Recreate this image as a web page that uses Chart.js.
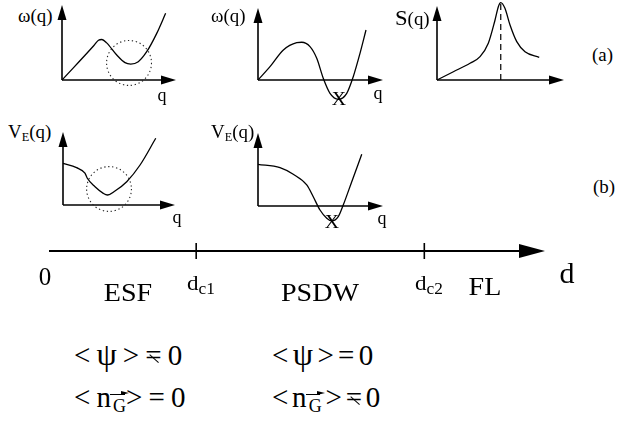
<!DOCTYPE html>
<html><head><meta charset="utf-8">
<script src="https://cdn.jsdelivr.net/npm/chart.js@4.4.1/dist/chart.umd.min.js"></script>
<style>
html,body{margin:0;padding:0;background:#fff;}
#wrap{position:relative;width:643px;height:423px;overflow:hidden;background:#fff;font-family:"Liberation Serif","Times New Roman",serif;color:#000;}
#wrap canvas{position:absolute;z-index:1;}
.t{position:absolute;white-space:nowrap;line-height:1;z-index:2;}
.sub{font-size:0.65em;position:relative;top:0.3em;}
.neq{position:relative;display:inline-block;}
.neq::after{content:"";position:absolute;left:0.1em;top:0.6em;width:0.4em;height:0.05em;background:#000;transform:rotate(42deg);}
.vec{position:relative;display:inline-block;margin-left:0.12em;}
.vec::before{content:"";position:absolute;left:-0.15em;width:0.8em;top:-0.22em;height:0.06em;background:#000;}
.vec::after{content:"";position:absolute;left:0.45em;top:-0.35em;border-left:0.45em solid #000;border-top:0.16em solid transparent;border-bottom:0.16em solid transparent;}
.psi{font-size:1.12em;}
</style></head>
<body><div id="wrap"></div>
<script>
// ---------- data ----------
// (a) ESF: dispersion omega(q) with roton-like minimum
const ESF_q     = [0, 2.80, 3.20, 3.50, 3.92, 4.80, 5.53, 6.03, 6.69, 7.43, 8.31, 9.09];
const ESF_omega = [0, 4.60, 5.30, 5.40, 4.95, 3.33, 2.31, 2.13, 2.44, 3.77, 6.22, 8.89];
// (a) PSDW: omega(q) dipping below zero
const PSDW_q     = [0, 0.96, 2.03, 3.10, 3.50, 4.16, 4.70, 5.22, 5.76, 6.43, 7.10, 7.62, 8.16, 8.64];
const PSDW_omega = [0, 1.85, 4.17, 5.18, 5.24, 4.63, 3.01, 0.24, -1.85, -2.68, -1.85, 0.46, 3.70, 6.94];
// (a) structure factor S(q)
const S_q   = [0, 1.29, 2.60, 3.39, 4.04, 4.57, 4.83, 5.02, 5.35, 5.75, 6.28, 6.93, 8.05];
const S_val = [0, 1.12, 2.26, 3.15, 4.96, 8.11, 9.91, 10.45, 9.69, 7.43, 5.18, 3.82, 3.07];
// (b) effective potential V_E(q)
const VE_ESF_q  = [0, 1.21, 1.96, 2.17, 2.86, 3.60, 3.96, 4.64, 5.69, 6.88, 8.28];
const VE_ESF    = [5.71, 5.11, 4.36, 3.66, 2.51, 1.60, 1.37, 1.92, 3.19, 5.48, 9.14];
const VE_PSDW_q = [0, 1.76, 2.82, 3.90, 4.42, 4.96, 5.50, 5.90, 6.42, 6.82, 7.50, 8.30];
const VE_PSDW   = [5.71, 5.25, 4.34, 2.88, 1.27, -0.55, -1.68, -2.05, -1.47, 0.14, 3.33, 7.08];
// phase axis d
const dAxis = [0, 3.37];
const dCritical = [1.0, 2.55];
const dCriticalLabels = ['c1', 'c2'];
const phaseNames = ['ESF', 'PSDW', 'FL'];
const phaseCenters = [0.54, 1.84, 2.96];

// ---------- plugin: arrow axes + dotted circles ----------
const arrowAxes = {
  id: 'arrowAxes',
  defaults: { on: false },
  beforeDatasetsDraw(chart, args, o) {
    if (!o.on) return;
    const c = chart.ctx, xs = chart.scales.x, ys = chart.scales.y;
    const x0 = xs.getPixelForValue(xs.min), y0 = ys.getPixelForValue(0);
    const x1 = xs.getPixelForValue(xs.max);
    c.save(); c.strokeStyle = '#000'; c.fillStyle = '#000'; c.lineWidth = o.lw; c.setLineDash([]);
    c.beginPath(); c.moveTo(x0, y0); c.lineTo(x1 - o.hl + 1, y0); c.stroke();
    c.beginPath(); c.moveTo(x1, y0); c.lineTo(x1 - o.hl, y0 - o.hw); c.lineTo(x1 - o.hl, y0 + o.hw); c.closePath(); c.fill();
    if (o.yAxis) {
      const y1 = ys.getPixelForValue(ys.max);
      c.beginPath(); c.moveTo(x0, y0); c.lineTo(x0, y1 + o.hl - 1); c.stroke();
      c.beginPath(); c.moveTo(x0, y1); c.lineTo(x0 - o.hw, y1 + o.hl); c.lineTo(x0 + o.hw, y1 + o.hl); c.closePath(); c.fill();
    }
    c.restore();
  },
  afterDatasetsDraw(chart, args, o) {
    if (!o.circle) return;
    const c = chart.ctx, xs = chart.scales.x, ys = chart.scales.y;
    const [cq, cv, r] = o.circle;
    const px = xs.getPixelForValue(cq), py = ys.getPixelForValue(cv);
    const rad = xs.getPixelForValue(cq + r) - px;
    c.save(); c.strokeStyle = '#222'; c.lineWidth = 1.1; c.setLineDash([1.3, 2.7]);
    c.beginPath(); c.arc(px, py, rad, 0, Math.PI * 2); c.stroke(); c.restore();
  }
};
Chart.register(arrowAxes);

const wrap = document.getElementById('wrap');
function makeCanvas(left, top, w, h) {
  const cv = document.createElement('canvas');
  cv.width = w; cv.height = h;
  cv.style.left = left + 'px'; cv.style.top = top + 'px';
  cv.style.width = w + 'px'; cv.style.height = h + 'px';
  wrap.appendChild(cv);
  return cv;
}
function label(html, x, baseline, size, align, sx) {
  const el = document.createElement('div');
  el.className = 't'; el.innerHTML = html;
  el.style.fontSize = size + 'px';
  el.style.top = (baseline - 0.8375 * size) + 'px';
  el.style.left = x + 'px';
  const tx = align === 'center' ? '-50%' : align === 'right' ? '-100%' : '0';
  el.style.transformOrigin = align === 'center' ? '50% 0' : align === 'right' ? '100% 0' : '0 0';
  el.style.transform = `translateX(${tx}) scaleX(${sx || 1})`;
  wrap.appendChild(el);
  return el;
}
function curve(q, v, extra) {
  return Object.assign({
    data: q.map((x, i) => ({ x, y: v[i] })),
    showLine: true, borderColor: '#000', borderWidth: 1.3, pointRadius: 0,
    tension: 0.4, cubicInterpolationMode: 'monotone', clip: false, fill: false
  }, extra || {});
}
const pad = { left: 8, right: 6, top: 6, bottom: 26 };
function panel(box, datasets, circle) {
  const cv = makeCanvas(box.ox - pad.left, box.ty - pad.top,
    box.tx - box.ox + pad.left + pad.right, box.oy - box.ty + pad.top + pad.bottom);
  return new Chart(cv, {
    type: 'scatter',
    data: { datasets },
    options: {
      responsive: false, animation: false, events: [],
      layout: { padding: pad },
      scales: { x: { type: 'linear', min: 0, max: 10, display: false },
                y: { type: 'linear', min: 0, max: 10, display: false } },
      plugins: { legend: { display: false }, tooltip: { enabled: false },
                 arrowAxes: { on: true, yAxis: true, lw: 1.6, hl: 15, hw: 4.5, circle: circle || null } }
    }
  });
}

// ---------- panels ----------
panel({ ox: 62, oy: 80, tx: 176, ty: 5 }, [curve(ESF_q, ESF_omega)], [5.88, 2.27, 1.97]);
panel({ ox: 258, oy: 80, tx: 383, ty: 8 }, [curve(PSDW_q, PSDW_omega)]);
const peak = S_val.indexOf(Math.max(...S_val));
panel({ ox: 437, oy: 80, tx: 564, ty: 6 }, [
  curve(S_q, S_val),
  curve([S_q[peak], S_q[peak]], [0, S_val[peak]], { tension: 0, cubicInterpolationMode: 'default', borderDash: [6, 4], borderWidth: 1.2 })
]);
panel({ ox: 63, oy: 205, tx: 175, ty: 132 }, [curve(VE_ESF_q, VE_ESF)], [4.11, 2.19, 2.0]);
panel({ ox: 258, oy: 206, tx: 383, ty: 133 }, [curve(VE_PSDW_q, VE_PSDW)]);

// ---------- phase axis ----------
const axLeft = 0, axTop = 236;
const axCanvas = makeCanvas(axLeft, axTop, 643, 30);
const axChart = new Chart(axCanvas, {
  type: 'scatter',
  data: { datasets: [{
    data: dCritical.map(d => ({ x: d, y: 0 })),
    pointStyle: 'line', rotation: 90, pointRadius: 8, borderWidth: 1.6, borderColor: '#000', clip: false
  }] },
  options: {
    responsive: false, animation: false, events: [],
    layout: { padding: { left: 49, right: 98, top: 0, bottom: 0 } },
    scales: { x: { type: 'linear', min: dAxis[0], max: dAxis[1], display: false },
              y: { type: 'linear', min: -1, max: 1, display: false } },
    plugins: { legend: { display: false }, tooltip: { enabled: false },
               arrowAxes: { on: true, yAxis: false, lw: 2, hl: 26, hw: 7 } }
  }
});
const dpx = v => axChart.scales.x.getPixelForValue(v) + axLeft;

label('0', dpx(dAxis[0]) - 4, 285, 25, 'center');
dCritical.forEach((d, i) => label('d<span class="sub" style="font-size:0.75em;top:0.25em">' + dCriticalLabels[i] + '</span>', dpx(d) - 9, 290, 22, 'left', 1.05));
phaseNames.forEach((n, i) => label(n, dpx(phaseCenters[i]), i === 2 ? 296 : 302, 26, 'center', 1.08));
label('d', dpx(dAxis[1]) + 22, 283, 30, 'center');

// ---------- panel labels ----------
label('ω(q)', 18, 22, 18, 'left', 1.05);
label('q', 162, 101, 18, 'center');
label('ω(q)', 211, 22, 18, 'left', 1.05);
label('q', 378, 99, 18, 'center');
label('X', 339, 105, 18, 'center', 1.1);
label('<span style="font-size:1.2em">S</span>(q)', 395, 23, 18, 'left', 1.05);
label('(a)', 592, 61, 18, 'left', 1.05);
label('V<span class="sub">E</span>(q)', 8, 138, 18, 'left', 1.05);
label('q', 177, 223, 18, 'center');
label('V<span class="sub">E</span>(q)', 211, 138, 18, 'left', 1.05);
label('q', 382, 224, 18, 'center');
label('X', 332, 228, 18, 'center', 1.1);
label('(b)', 593, 193, 18, 'left', 1.05);

// ---------- order-parameter formulas ----------
const fs = 29;
const nG = 'n<span class="sub" style="font-size:0.62em;top:0.32em"><span class="vec">G</span></span>';
label('&lt; <span class="psi">ψ</span> &gt; <span class="neq">=</span> 0', 74, 362, fs, 'left').style.wordSpacing = '-0.04em';
label('&lt; <span class="psi">ψ</span> &gt; = 0', 272, 362, fs, 'left').style.wordSpacing = '-0.1em';
label('&lt; ' + nG + '&gt; = 0', 74, 407, fs, 'left').style.wordSpacing = '-0.04em';
label('&lt; ' + nG + ' &gt; <span class="neq">=</span> 0', 272, 407, fs, 'left').style.wordSpacing = '-0.12em';
</script>
</body></html>
